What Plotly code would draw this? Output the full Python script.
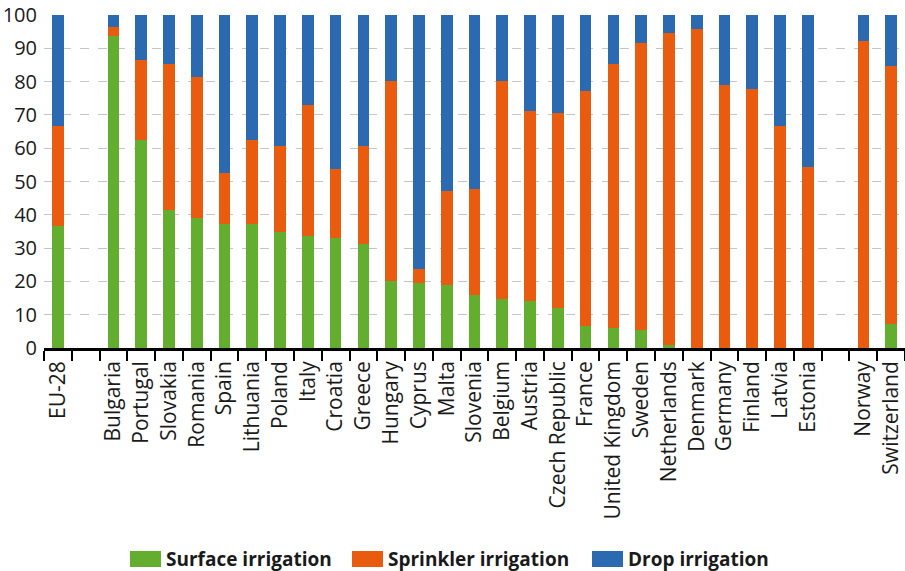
import plotly.graph_objects as go

categories = ["EU-28", " ", "Bulgaria", "Portugal", "Slovakia", "Romania", "Spain", "Lithuania",
              "Poland", "Italy", "Croatia", "Greece", "Hungary", "Cyprus", "Malta", "Slovenia",
              "Belgium", "Austria", "Czech Republic", "France", "United Kingdom", "Sweden",
              "Netherlands", "Denmark", "Germany", "Finland", "Latvia", "Estonia", "  ",
              "Norway", "Switzerland"]

surface = [36.6, None, 93.8, 62.4, 41.5, 39.1, 37.3, 37.3, 34.9, 33.6, 33.0, 31.2, 20.1, 19.5,
           18.9, 15.8, 14.6, 14.0, 12.1, 6.6, 5.9, 5.3, 1.0, 0, 0, 0, 0, 0, None, 0, 7.2]
sprinkler = [30.1, None, 2.5, 24.1, 43.8, 42.3, 15.3, 25.1, 25.7, 39.3, 20.9, 29.4, 60.2, 4.2,
             28.2, 31.8, 65.7, 57.1, 58.4, 70.6, 79.4, 86.2, 93.5, 95.7, 79.0, 77.9, 66.8, 54.5,
             None, 92.1, 77.5]
drop = [33.3, None, 3.7, 13.5, 14.7, 18.6, 47.4, 37.6, 39.4, 27.1, 46.1, 39.4, 19.7, 76.3,
        52.9, 52.4, 19.7, 28.9, 29.5, 22.8, 14.7, 8.5, 5.5, 4.3, 21.0, 22.1, 33.2, 45.5,
        None, 7.9, 15.3]

series_names = ["Surface irrigation", "Sprinkler irrigation", "Drop irrigation"]
series_values = [surface, sprinkler, drop]
series_colors = ["#63ad2f", "#e95b0e", "#2b6ab0"]

W, H = 905, 571
ML, MR, MT, MB = 44, 0, 15, 223
PW, PH = W - ML - MR, H - MT - MB

fig = go.Figure()
for name, vals, col in zip(series_names, series_values, series_colors):
    fig.add_trace(go.Bar(x=categories, y=vals, name=name, marker_color=col,
                         marker_line_width=0, showlegend=False))

font_family = "'Open Sans', sans-serif"

# custom legend (larger swatches like the reference)
def px_to_paper_x(px):
    return (px - ML) / PW

def px_to_paper_y(py):
    return (H - MB - py) / PH

legend_swatch_x = [130, 352, 592]
swatch_w, swatch_top, swatch_bot = 31, 551, 567
for sx, name, col in zip(legend_swatch_x, series_names, series_colors):
    fig.add_shape(type="rect", xref="paper", yref="paper",
                  x0=px_to_paper_x(sx), x1=px_to_paper_x(sx + swatch_w),
                  y0=px_to_paper_y(swatch_bot), y1=px_to_paper_y(swatch_top),
                  fillcolor=col, line_width=0, layer="above")
    fig.add_annotation(xref="paper", yref="paper",
                       x=px_to_paper_x(sx + swatch_w + 3), y=px_to_paper_y(559),
                       xanchor="left", yanchor="middle", showarrow=False,
                       text="<b>" + name + "</b>",
                       font=dict(family=font_family, size=19, color="#1a1a1a"))

fig.update_layout(
    barmode="stack",
    bargap=0.58,
    width=W, height=H,
    margin=dict(l=ML, r=MR, t=MT, b=MB),
    plot_bgcolor="white", paper_bgcolor="white",
    font=dict(family=font_family, size=20, color="#1a1a1a"),
    showlegend=False,
)
fig.update_xaxes(
    type="category", categoryorder="array", categoryarray=categories,
    range=[-0.5, len(categories) - 0.5],
    tickangle=-90, tickson="boundaries", ticks="outside", ticklen=10, tickwidth=2,
    tickcolor="black", showline=True, linecolor="black", linewidth=2.5,
    showgrid=False, tickfont=dict(size=21), ticklabelstandoff=2,
)
fig.update_yaxes(
    range=[0, 100], dtick=10, showgrid=True, gridcolor="#c6c6c6", gridwidth=1.3,
    griddash="dash", showline=False, ticks="", zeroline=False,
    tickfont=dict(size=20), ticklabelstandoff=6,
)

fig.write_html("out.html", config={"displayModeBar": False},
               post_script="document.body.style.margin='0';")
